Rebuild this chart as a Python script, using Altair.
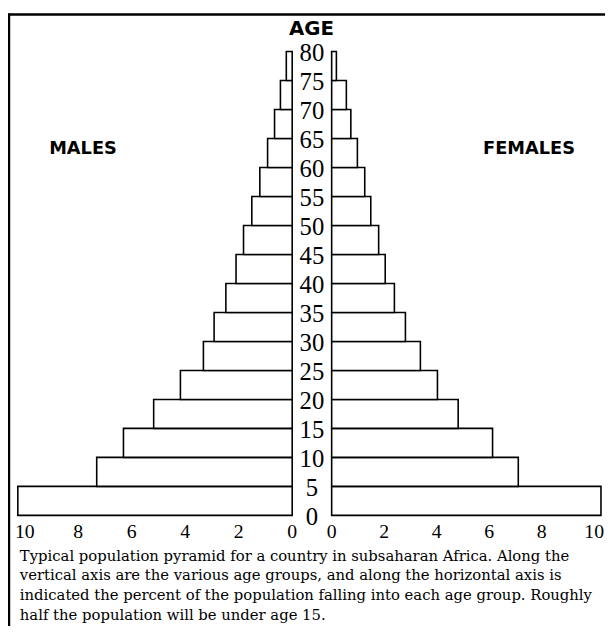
import altair as alt
import pandas as pd

# ---- data ----
age_lo = [0, 5, 10, 15, 20, 25, 30, 35, 40, 45, 50, 55, 60, 65, 70, 75]
males = [10.26, 7.31, 6.31, 5.18, 4.18, 3.32, 2.92, 2.48, 2.10, 1.82, 1.51, 1.21, 0.92, 0.66, 0.44, 0.22]
females = [10.26, 7.11, 6.13, 4.82, 4.03, 3.38, 2.81, 2.39, 2.04, 1.79, 1.49, 1.26, 0.98, 0.73, 0.56, 0.18]
age_ticks = [0, 5, 10, 15, 20, 25, 30, 35, 40, 45, 50, 55, 60, 65, 70, 75, 80]
pct_ticks = [0, 2, 4, 6, 8, 10]
axis_title = ["AGE"]
side_titles = ["MALES", "FEMALES"]
caption = [
    "Typical population pyramid for a country in subsaharan Africa. Along the\n"
    "vertical axis are the various age groups, and along the horizontal axis is\n"
    "indicated the percent of the population falling into each age group. Roughly\n"
    "half the population will be under age 15."
]

bars_df = pd.DataFrame({"lo": age_lo, "hi": [a + 5 for a in age_lo], "m": males, "f": females})
ticks_df = pd.DataFrame({"t": pct_ticks})
ages_df = pd.DataFrame({"age": age_ticks})

W, H = 605, 622
yscale = alt.Scale(domain=[0, 80], range=[510, 40])
mscale = alt.Scale(domain=[0, 10], range=[288, 17])
fscale = alt.Scale(domain=[0, 10], range=[328, 594])

serif = "Liberation Serif"
sans = "DejaVu Sans"

def side(field, scale):
    bars = alt.Chart(bars_df).transform_calculate(zero="0").mark_rect(
        fill="white", stroke="black", strokeWidth=1.6
    ).encode(
        x=alt.X(f"{field}:Q", scale=scale, axis=None),
        x2="zero:Q",
        y=alt.Y("lo:Q", scale=yscale, axis=None),
        y2="hi:Q",
    )
    ticks = alt.Chart(ticks_df).mark_text(
        font=serif, fontSize=20, color="black", baseline="middle"
    ).encode(
        x=alt.X("t:Q", scale=scale, axis=None),
        y=alt.value(527),
        text="t:Q",
    )
    return alt.layer(bars, ticks)

left = side("m", mscale)
right = side("f", fscale)

ages = alt.Chart(ages_df).mark_text(
    font=serif, fontSize=25, color="black", align="center", baseline="middle", dy=2
).encode(
    x=alt.value(308),
    y=alt.Y("age:Q", scale=yscale, axis=None),
    text="age:Q",
)

age_title = alt.Chart(pd.DataFrame({"t": axis_title})).mark_text(
    font=sans, fontSize=20, fontWeight="bold", color="black", align="center", baseline="middle"
).encode(x=alt.value(307.5), y=alt.value(17), text="t:N")

males_title = alt.Chart(pd.DataFrame({"t": side_titles[:1]})).mark_text(
    font=sans, fontSize=18, fontWeight="bold", color="black", align="center", baseline="middle"
).encode(x=alt.value(76), y=alt.value(139), text="t:N")

females_title = alt.Chart(pd.DataFrame({"t": side_titles[1:]})).mark_text(
    font=sans, fontSize=18, fontWeight="bold", color="black", align="center", baseline="middle"
).encode(x=alt.value(528), y=alt.value(139), text="t:N")

cap = alt.Chart(pd.DataFrame({"t": caption})).mark_text(
    font="DejaVu Serif", fontSize=15, color="black", align="left", baseline="alphabetic",
    lineBreak="\n", lineHeight=20
).encode(x=alt.value(12), y=alt.value(556), text="t:N")

frame_df = pd.DataFrame({"k": [0]})
top_border = alt.Chart(frame_df).mark_rule(color="black", strokeWidth=2.5).encode(
    x=alt.value(0), x2=alt.value(W), y=alt.value(2.5)
)
left_border = alt.Chart(frame_df).mark_rule(color="black", strokeWidth=2.5).encode(
    x=alt.value(1), y=alt.value(1.5), y2=alt.value(H)
)

chart = alt.layer(
    left, right, ages, age_title, males_title, females_title, cap, top_border, left_border
).resolve_scale(x="independent").properties(
    width=W, height=H, padding=0,
    autosize=alt.AutoSizeParams(type="none"),
).configure_view(stroke=None)

chart.save("out.html", embed_options={"renderer": "svg", "actions": False})
